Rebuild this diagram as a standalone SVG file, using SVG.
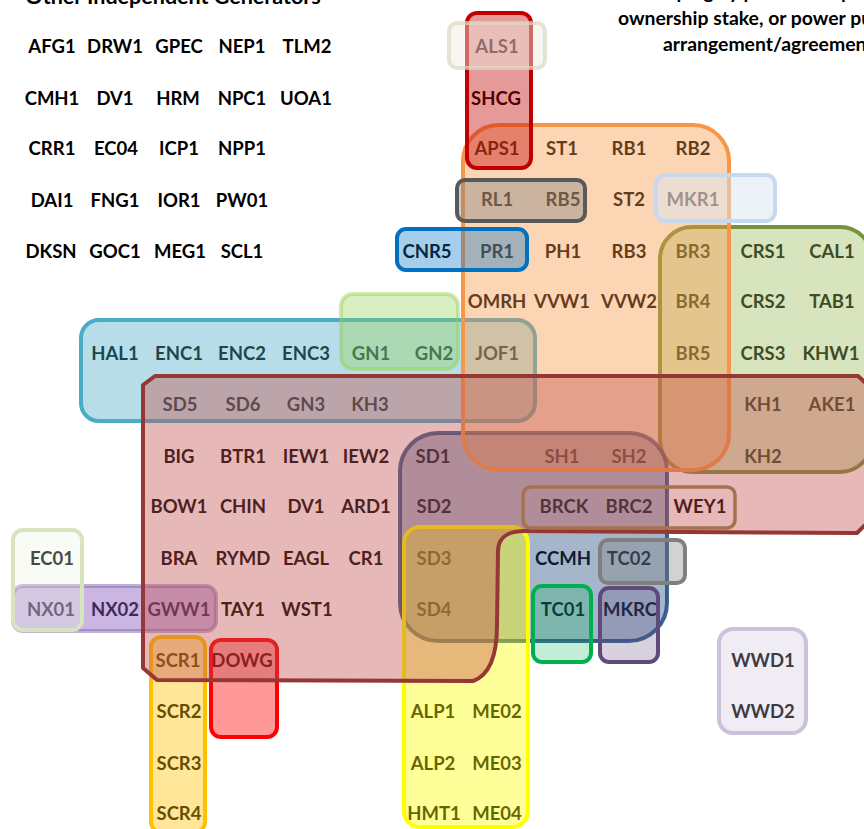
<svg xmlns="http://www.w3.org/2000/svg" width="864" height="829" viewBox="0 0 864 829">
  <style>
    text { font-family: Lato, "Open Sans", "Liberation Sans", sans-serif; font-weight: bold; fill: #000; }
    .lb { font-size: 18.5px; text-anchor: middle; }
    .hd { font-size: 21.5px; }
    .nt { font-size: 19.4px; }
    .box { stroke-width: 4; }
  </style>
  <rect width="864" height="829" fill="#ffffff"/>

  <!-- headings -->
  <g id="headings">
    <text class="hd" x="173" y="4" text-anchor="middle">Other Independent Generators</text>
    <text class="nt" x="790" y="-1" text-anchor="middle">Grouping by parent company, partial</text>
    <text class="nt" x="618" y="25">ownership stake, or power purchase</text>
    <text class="nt" x="663" y="51">arrangement/agreement</text>
  </g>

  <!-- generator labels (drawn beneath the translucent group shapes) -->
  <g id="labels" class="lb">
    <text x="52" y="53">AFG1</text><text x="115" y="53">DRW1</text><text x="179" y="53">GPEC</text><text x="242" y="53">NEP1</text><text x="307" y="53">TLM2</text>
    <text x="52" y="105">CMH1</text><text x="115" y="105">DV1</text><text x="178" y="105">HRM</text><text x="242" y="105">NPC1</text><text x="306" y="105">UOA1</text>
    <text x="52" y="155">CRR1</text><text x="116" y="155">EC04</text><text x="179" y="155">ICP1</text><text x="242" y="155">NPP1</text>
    <text x="52" y="207">DAI1</text><text x="115" y="207">FNG1</text><text x="179" y="207">IOR1</text><text x="242" y="207">PW01</text>
    <text x="51" y="258">DKSN</text><text x="115" y="258">GOC1</text><text x="180" y="258">MEG1</text><text x="242" y="258">SCL1</text>

    <text x="497" y="53">ALS1</text>
    <text x="496" y="105">SHCG</text>
    <text x="497" y="155">APS1</text><text x="562" y="155">ST1</text><text x="629" y="155">RB1</text><text x="693" y="155">RB2</text>
    <text x="497" y="206">RL1</text><text x="563" y="206">RB5</text><text x="629" y="206">ST2</text><text x="693" y="206">MKR1</text>
    <text x="427" y="258">CNR5</text><text x="497" y="258">PR1</text><text x="563" y="258">PH1</text><text x="629" y="258">RB3</text><text x="693" y="258">BR3</text><text x="763" y="258">CRS1</text><text x="832" y="258">CAL1</text>
    <text x="497" y="308">OMRH</text><text x="562" y="308">VVW1</text><text x="629" y="308">VVW2</text><text x="693" y="308">BR4</text><text x="763" y="308">CRS2</text><text x="832" y="308">TAB1</text>
    <text x="115" y="360">HAL1</text><text x="179" y="360">ENC1</text><text x="242" y="360">ENC2</text><text x="306" y="360">ENC3</text><text x="371" y="360">GN1</text><text x="434" y="360">GN2</text><text x="497" y="360">JOF1</text><text x="693" y="360">BR5</text><text x="763" y="360">CRS3</text><text x="831" y="360">KHW1</text>
    <text x="180" y="411">SD5</text><text x="243" y="411">SD6</text><text x="306" y="411">GN3</text><text x="370" y="411">KH3</text><text x="763" y="411">KH1</text><text x="832" y="411">AKE1</text>
    <text x="179" y="463">BIG</text><text x="243" y="463">BTR1</text><text x="306" y="463">IEW1</text><text x="366" y="463">IEW2</text><text x="433" y="463">SD1</text><text x="562" y="463">SH1</text><text x="629" y="463">SH2</text><text x="763" y="463">KH2</text>
    <text x="179" y="513">BOW1</text><text x="243" y="513">CHIN</text><text x="306" y="513">DV1</text><text x="366" y="513">ARD1</text><text x="434" y="513">SD2</text><text x="564" y="513">BRCK</text><text x="629" y="513">BRC2</text><text x="700" y="513">WEY1</text>
    <text x="52" y="565">EC01</text><text x="179" y="565">BRA</text><text x="243" y="565">RYMD</text><text x="306" y="565">EAGL</text><text x="366" y="565">CR1</text><text x="434" y="565">SD3</text><text x="563" y="565">CCMH</text><text x="629" y="565">TC02</text>
    <text x="51" y="616">NX01</text><text x="115" y="616">NX02</text><text x="179" y="616">GWW1</text><text x="243" y="616">TAY1</text><text x="307" y="616">WST1</text><text x="434" y="616">SD4</text><text x="563" y="616">TC01</text><text x="630" y="616">MKRC</text>
    <text x="178" y="667">SCR1</text><text x="242" y="667">DOWG</text><text x="763" y="667">WWD1</text>
    <text x="179" y="718">SCR2</text><text x="433" y="718">ALP1</text><text x="497" y="718">ME02</text><text x="763" y="718">WWD2</text>
    <text x="179" y="770">SCR3</text><text x="433" y="770">ALP2</text><text x="497" y="770">ME03</text>
    <text x="179" y="820">SCR4</text><text x="434" y="820">HMT1</text><text x="497" y="820">ME04</text>
  </g>

  <!-- translucent group outlines, back to front -->
  <g id="grp-hal" class="box"><rect x="81" y="320" width="454" height="101" rx="18" fill="#4bacc6" fill-opacity="0.4" stroke="#4bacc6"/></g>
  <g id="grp-gn" class="box"><rect x="341" y="294" width="117" height="75" rx="12" fill="#92d050" fill-opacity="0.35" stroke="#92d050" stroke-opacity="0.45"/></g>
  <g id="grp-crs" class="box"><rect x="660" y="227" width="212" height="245" rx="32" fill="#9bbb59" fill-opacity="0.4" stroke="#77933c"/></g>
  <g id="grp-sd" class="box"><rect x="400" y="433" width="267" height="208" rx="38" fill="#1f497d" fill-opacity="0.4" stroke="#1f497d" stroke-opacity="0.85"/></g>
  <g id="grp-alp" class="box"><rect x="404" y="527" width="124" height="300" rx="16" fill="#ffff00" fill-opacity="0.4" stroke="#ffff00"/></g>
  <g id="grp-nx" class="box"><rect x="13" y="586" width="203" height="45" rx="10" fill="#8a5cc0" fill-opacity="0.45" stroke="#8064a2" stroke-opacity="0.5"/></g>
  <g id="grp-scr" class="box"><rect x="151" y="637" width="54" height="195" rx="10" fill="#ffc000" fill-opacity="0.4" stroke="#ffc000"/></g>
  <g id="grp-dowg" class="box"><rect x="211" y="640" width="66" height="97" rx="10" fill="#ff0000" fill-opacity="0.4" stroke="#ff0000"/></g>
  <g id="grp-aps" class="box"><rect x="463" y="125" width="266" height="345" rx="36" fill="#f79646" fill-opacity="0.4" stroke="#f79646"/></g>
  <g id="grp-shcg" class="box"><rect x="467" y="13" width="64" height="155" rx="10" fill="#c00000" fill-opacity="0.4" stroke="#c00000"/></g>
  <g id="grp-als" class="box"><rect x="449" y="23" width="96" height="45" rx="8" fill="#eeece1" fill-opacity="0.45" stroke="#ddd9c3" stroke-opacity="0.7"/></g>
  <g id="grp-rl" class="box"><rect x="457" y="180" width="128" height="41" rx="8" fill="#7f7f7f" fill-opacity="0.4" stroke="#595959"/></g>
  <g id="grp-mkr" class="box"><rect x="656" y="175" width="119" height="46" rx="9" fill="#dce6f2" fill-opacity="0.5" stroke="#c6d9f1"/></g>
  <g id="grp-cnr" class="box"><rect x="397" y="229" width="130" height="41" rx="9" fill="#0070c0" fill-opacity="0.35" stroke="#0070c0"/></g>
  <g id="grp-big" class="box">
    <path d="M143,385 L155,376 L858,376 L872,389 L872,518 L857,533 L525,531 C506,531 498,538 498,552 L497,625 C497,655 490,675 473,681 L157,680 L143,668 Z" fill="#c0504d" fill-opacity="0.4" stroke="#953735" stroke-linejoin="round"/>
  </g>
  <g id="grp-ec" class="box"><rect x="13" y="530" width="69" height="100" rx="10" fill="#ebf1de" fill-opacity="0.3" stroke="#d7e4bd"/></g>
  <g id="grp-brck"><rect x="523" y="487" width="212" height="41" rx="8" fill="none" stroke="#a5714f" stroke-width="3.5"/></g>
  <g id="grp-tc02" class="box"><rect x="600" y="540" width="85" height="43" rx="8" fill="#7f7f7f" fill-opacity="0.35" stroke="#7f7f7f"/></g>
  <g id="grp-tc01" class="box"><rect x="533" y="586" width="58" height="76" rx="9" fill="#00b050" fill-opacity="0.23" stroke="#00b050"/></g>
  <g id="grp-mkrc" class="box"><rect x="600" y="588" width="58" height="74" rx="9" fill="#604a7b" fill-opacity="0.25" stroke="#604a7b"/></g>
  <g id="grp-wwd" class="box"><rect x="719" y="629" width="87" height="104" rx="14" fill="#ccc0da" fill-opacity="0.3" stroke="#ccc0da"/></g>
</svg>
